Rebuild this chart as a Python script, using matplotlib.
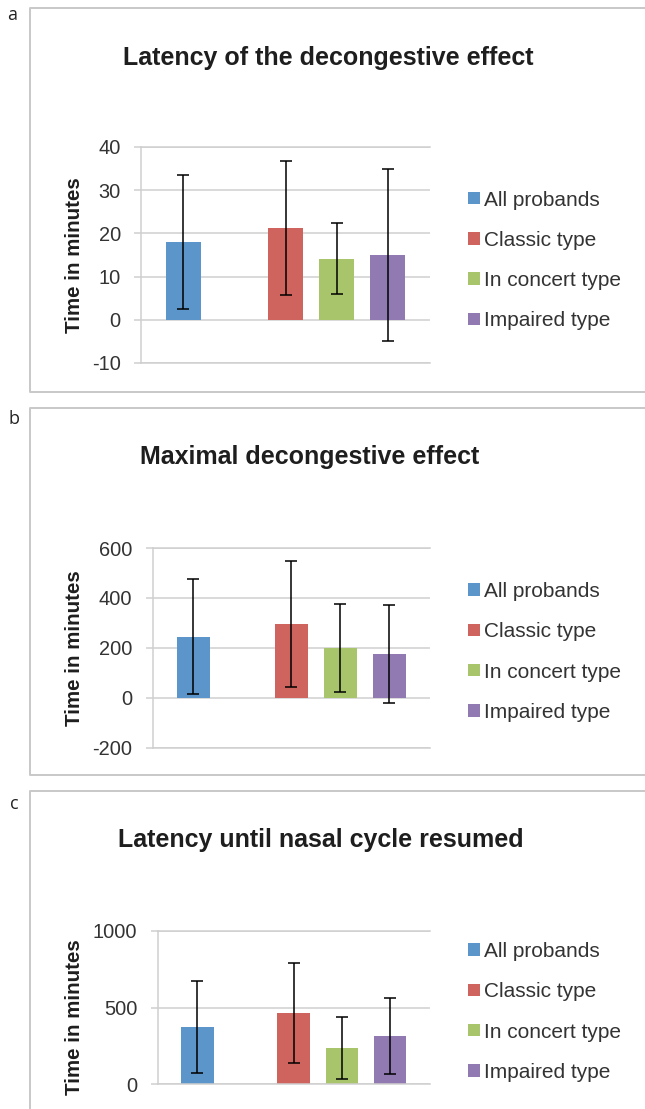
import numpy as np
import matplotlib.pyplot as plt
from matplotlib.lines import Line2D

plt.rcParams['font.family'] = ['Liberation Sans', 'DejaVu Sans']
plt.rcParams['axes.unicode_minus'] = False

# dados (media e desvio padrao, em minutos)
groups = ["All probands", "Classic type", "In concert type", "Impaired type"]
colors = ["#5B95C9", "#CF635D", "#A9C56B", "#9179B1"]

titles = ["Latency of the decongestive effect",
          "Maximal decongestive effect",
          "Latency until nasal cycle resumed"]
panel_letters = ["a", "b", "c"]

latency_mean = [18.0, 21.2, 14.1, 15.0]
latency_sd = [15.6, 15.5, 8.2, 19.9]

maximal_mean = [245, 294, 200, 176]
maximal_sd = [230, 252, 175, 196]

resumed_mean = [372, 464, 236, 314]
resumed_sd = [301, 330, 203, 247]

ticks_a = [-10, 0, 10, 20, 30, 40]
ticks_b = [-200, 0, 200, 400, 600]
ticks_c = [0, 500, 1000]

W, H = 645, 1109
fig = plt.figure(figsize=(W / 100, H / 100), dpi=100)


def fx(x):
    return x / W


def fy(y):
    return 1 - y / H


# layout em pixels: eixo (esq, topo, dir, base), titulo, legenda, rotulo, caixa, letra
layouts = [
    dict(ax=(141, 147, 430, 363), title=(328, 58), leg=(468, 190.5), lab=(74, 255),
         box=(30, 7.5, 391.7), letter=(12, 15)),
    dict(ax=(152.6, 548, 430, 747.7), title=(310, 457), leg=(468, 582), lab=(74, 648),
         box=(30, 407.7, 775), letter=(14, 419)),
    dict(ax=(157.5, 931, 430, 1084), title=(321, 840), leg=(468, 942), lab=(74, 1017),
         box=(30, 790.7, None), letter=(14, 804)),
]

data = [(latency_mean, latency_sd, ticks_a),
        (maximal_mean, maximal_sd, ticks_b),
        (resumed_mean, resumed_sd, ticks_c)]

grid_color = "#cfcfcf"
box_color = "#c8c8c8"
x = np.array([0, 2, 3, 4])

for i, (mean, sd, ticks) in enumerate(data):
    lay = layouts[i]
    l, t, r, b = lay["ax"]
    ax = fig.add_axes([fx(l), fy(b), (r - l) / W, (b - t) / H])

    for j in range(len(groups)):
        ax.bar(x[j], mean[j], width=0.68, color=colors[j], label=groups[j], zorder=2)
    ax.errorbar(x, mean, yerr=sd, fmt='none', ecolor='black', elinewidth=1.1,
                capsize=4.3, capthick=1.1, zorder=3)

    ax.set_xlim(-0.83, 4.83)
    ax.set_ylim(ticks[0], ticks[-1])
    ax.set_yticks(ticks)
    ax.set_xticks([])
    ax.set_axisbelow(True)
    ax.yaxis.grid(True, color=grid_color, lw=1.1)
    for s in ["top", "bottom", "left"]:
        ax.spines[s].set_color(grid_color)
        ax.spines[s].set_linewidth(1.1)
    ax.spines["right"].set_visible(False)
    ax.tick_params(axis='y', length=5, width=1.1, color=grid_color,
                   labelsize=14.4, labelcolor="#333333", pad=9.5)

    fig.text(fx(lay["title"][0]), fy(lay["title"][1]), titles[i], fontsize=18,
             fontweight='bold', color="#1e1e1e", ha='center', va='center')
    fig.text(fx(lay["lab"][0]), fy(lay["lab"][1]), "Time in minutes", fontsize=14.8,
             fontweight='bold', color="#1e1e1e", rotation=90, ha='center', va='center')

    leg = ax.legend(loc='upper left', bbox_to_anchor=(fx(lay["leg"][0]), fy(lay["leg"][1])),
                    bbox_transform=fig.transFigure, frameon=False, fontsize=15,
                    handlelength=0.56, handleheight=0.56, handletextpad=0.2,
                    labelspacing=1.02, borderpad=0, borderaxespad=0)
    for txt in leg.get_texts():
        txt.set_color("#333333")

    # moldura cinza de cada painel (aberta a direita, vai ate a borda da imagem)
    bx, btop, bbot = lay["box"]
    xr = W - 0.5
    if bbot is None:
        xs, ys = [xr, bx, bx], [btop, btop, H - 0.5]
    else:
        xs, ys = [xr, bx, bx, xr], [btop, btop, bbot, bbot]
    fig.add_artist(Line2D([fx(v) for v in xs], [fy(v) for v in ys],
                          transform=fig.transFigure, color=box_color, lw=1.4))
    fig.text(fx(lay["letter"][0]), fy(lay["letter"][1]), panel_letters[i],
             fontsize=13, family=['Open Sans', 'DejaVu Sans'], color="#222222",
             ha='center', va='center')

fig.savefig("out.png", dpi=100)
